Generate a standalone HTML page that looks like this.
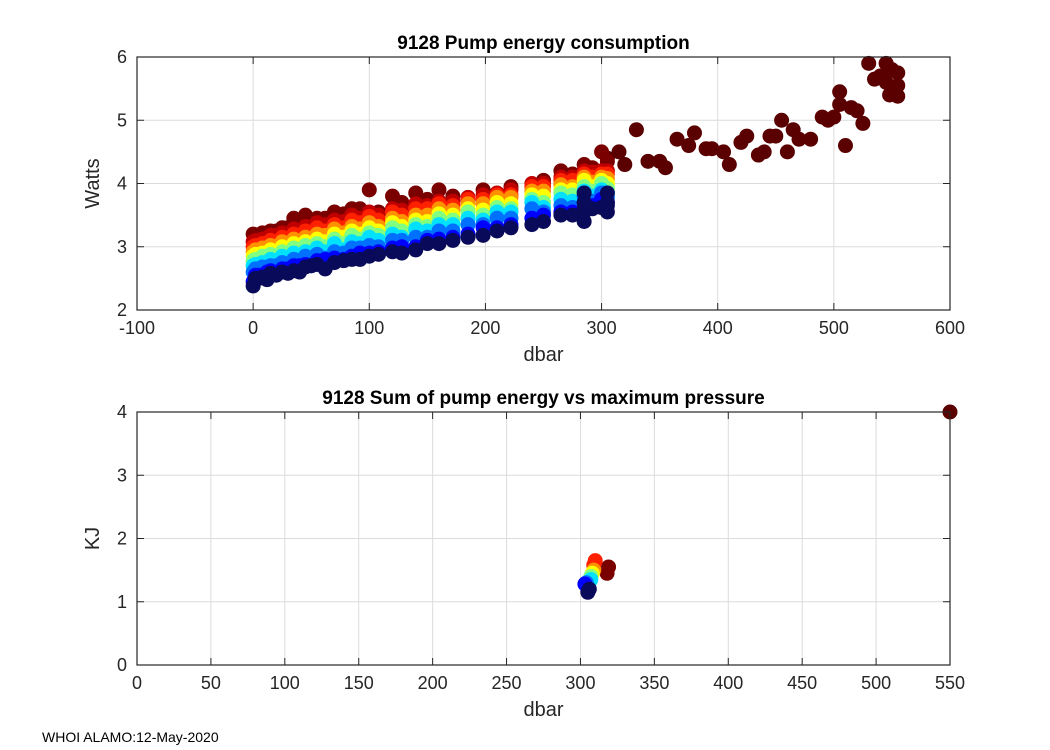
<!DOCTYPE html>
<html><head><meta charset="utf-8"><style>
html,body{margin:0;padding:0;background:#fff;}
svg{display:block;font-family:"Liberation Sans",Arial,sans-serif;}
</style></head><body>
<svg id="chart" width="1050" height="750" viewBox="0 0 1050 750" xmlns="http://www.w3.org/2000/svg">
<rect width="1050" height="750" fill="#fff"/>
<g id="top"></g>
<g id="bot"></g>
<text x="42" y="742" font-size="14" fill="#000">WHOI ALAMO:12-May-2020</text>
</svg>
<script>
// ---- data ----
const bandColors = ['#0a0a5a','#0000ff','#0070ff','#00e0ff','#80ff80','#ffff00','#ff9000','#ff2000','#c00000','#7a0000'];
const pressures = [0,2,8,15,25,35,45,55,70,85,100,120,140,160,185,210,240,265,285,300];
const watts0 = [2.38,2.5,2.52,2.58,2.6,2.62,2.68,2.72,2.75,2.8,2.85,2.92,2.95,3.05,3.15,3.25,3.35,3.5,3.6,3.62];
const watts1 = [2.45,2.55,2.55,2.62,2.65,2.7,2.72,2.78,2.82,2.85,2.9,2.98,3.0,3.12,3.2,3.3,3.45,3.55,3.7,3.75];
const watts2 = [2.6,2.65,2.68,2.7,2.75,2.8,2.85,2.88,2.92,2.98,3.02,3.1,3.15,3.25,3.35,3.45,3.6,3.65,3.8,3.85];
const watts3 = [2.7,2.72,2.75,2.8,2.85,2.9,2.92,2.98,3.05,3.08,3.15,3.2,3.28,3.35,3.45,3.55,3.7,3.75,3.88,3.9];
const watts4 = [2.78,2.8,2.85,2.88,2.92,2.98,3.02,3.05,3.12,3.18,3.22,3.3,3.35,3.45,3.55,3.62,3.75,3.85,3.95,4.0];
const watts5 = [2.85,2.88,2.9,2.95,3.0,3.05,3.08,3.12,3.2,3.25,3.3,3.38,3.42,3.52,3.6,3.7,3.82,3.9,4.05,4.05];
const watts6 = [2.92,2.95,2.98,3.02,3.08,3.12,3.15,3.2,3.28,3.32,3.38,3.45,3.5,3.6,3.68,3.78,3.88,3.98,4.1,4.1];
const watts7 = [3.0,3.02,3.05,3.1,3.15,3.2,3.25,3.3,3.35,3.42,3.48,3.55,3.6,3.68,3.75,3.82,3.95,4.05,4.15,4.15];
const watts8 = [3.08,3.1,3.12,3.18,3.22,3.28,3.32,3.38,3.42,3.5,3.55,3.6,3.68,3.72,3.78,3.85,4.0,4.1,4.2,4.2];
const watts9 = [3.2,3.18,3.22,3.25,3.3,3.45,3.5,3.45,3.55,3.6,3.9,3.8,3.85,3.9,3.75,3.8,3.75,4.2,4.3,4.5];
const pressuresB = [5,12,20,30,40,50,62,78,92,108,128,150,172,198,222,250,275,292,305];
const wattsB0 = [2.5,2.48,2.55,2.58,2.6,2.7,2.65,2.78,2.8,2.88,2.9,3.05,3.1,3.18,3.3,3.4,3.5,3.6,3.65];
const wattsB1 = [2.55,2.6,2.58,2.65,2.7,2.7,2.8,2.8,2.9,2.92,3.0,3.1,3.15,3.3,3.35,3.5,3.55,3.65,3.7];
const wattsB2 = [2.62,2.65,2.7,2.7,2.78,2.8,2.82,2.9,2.98,3.0,3.1,3.15,3.25,3.35,3.45,3.55,3.62,3.72,3.78];
const wattsB3 = [2.7,2.72,2.78,2.8,2.82,2.9,2.92,2.95,3.05,3.1,3.15,3.25,3.35,3.42,3.55,3.62,3.72,3.8,3.85];
const wattsB4 = [2.78,2.82,2.85,2.88,2.92,2.95,3.0,3.05,3.12,3.18,3.25,3.32,3.42,3.5,3.6,3.7,3.82,3.88,3.92];
const wattsB5 = [2.86,2.9,2.92,2.95,3.0,3.02,3.08,3.15,3.2,3.25,3.32,3.4,3.5,3.58,3.68,3.8,3.9,3.95,4.0];
const wattsB6 = [2.95,2.98,3.0,3.05,3.08,3.12,3.18,3.22,3.28,3.32,3.4,3.5,3.58,3.68,3.78,3.88,3.95,4.02,4.08];
const wattsB7 = [3.02,3.05,3.08,3.12,3.15,3.2,3.25,3.3,3.38,3.42,3.5,3.6,3.65,3.75,3.82,3.95,4.05,4.1,4.15];
const wattsB8 = [3.1,3.12,3.18,3.2,3.25,3.28,3.35,3.4,3.45,3.5,3.58,3.65,3.72,3.82,3.9,4.0,4.1,4.18,4.2];
const wattsB9 = [3.18,3.2,3.25,3.3,3.35,3.4,3.45,3.52,3.6,3.55,3.7,3.75,3.8,3.9,3.95,4.05,4.15,4.25,4.35];
const streakP = [285,285,285,285,305,305,305];
const streakW = [3.4,3.55,3.7,3.85,3.55,3.7,3.85];
const deepP = [305,315,320,330,340,350,355,365,375,380,390,395,405,410,420,425,435,440,445,450,455,460,465,470,480,490,495,500,505,505,510,515,520,525,530,535,540,545,545,550,548,555,555,555];
const deepW = [4.4,4.5,4.3,4.85,4.35,4.35,4.25,4.7,4.6,4.8,4.55,4.55,4.5,4.3,4.65,4.75,4.45,4.5,4.75,4.75,5.0,4.5,4.85,4.7,4.7,5.05,5.0,5.05,5.45,5.25,4.6,5.2,5.15,4.95,5.9,5.65,5.7,5.9,5.6,5.8,5.4,5.75,5.55,5.38];
const sumP = [305,306,303,304,307,307,308,309,309,310,318,319,550];
const sumKJ = [1.15,1.2,1.28,1.3,1.35,1.4,1.45,1.5,1.58,1.65,1.45,1.55,4.0];
const sumBand = [0,0,1,2,3,4,5,6,7,7,9,9,10];
const topXTicks = [-100,0,100,200,300,400,500,600];
const topYTicks = [2,3,4,5,6];
const botXTicks = [0,50,100,150,200,250,300,350,400,450,500,550];
const botYTicks = [0,1,2,3,4];
const deepColor = '#5a0000';
const wattsBands = [watts0,watts1,watts2,watts3,watts4,watts5,watts6,watts7,watts8,watts9];
const wattsBandsB = [wattsB0,wattsB1,wattsB2,wattsB3,wattsB4,wattsB5,wattsB6,wattsB7,wattsB8,wattsB9];

const NS='http://www.w3.org/2000/svg';
function mk(tag,attrs,parent){const e=document.createElementNS(NS,tag);for(const k in attrs)e.setAttribute(k,attrs[k]);parent.appendChild(e);return e;}

function axes(g,L,T,R,B,xmin,xmax,ymin,ymax,xt,yt,title,xl,yl){
  const sx=v=>L+(v-xmin)/(xmax-xmin)*(R-L);
  const sy=v=>B-(v-ymin)/(ymax-ymin)*(B-T);
  xt.forEach(v=>{const x=sx(v);
    const l=mk('line',{x1:x,x2:x,y1:T,y2:B,stroke:'#dcdcdc','stroke-width':1},g);
    
    
    const t=mk('text',{x:x,y:B+24,'font-size':18,'text-anchor':'middle',fill:'#262626'},g);t.textContent=v;
    
    
  });
  yt.forEach(v=>{const y=sy(v);
    const l=mk('line',{x1:L,x2:R,y1:y,y2:y,stroke:'#dcdcdc','stroke-width':1},g);
    
    
    const t=mk('text',{x:L-10,y:y+6,'font-size':18,'text-anchor':'end',fill:'#262626'},g);t.textContent=v;
    
    
  });
  const tt=mk('text',{x:(L+R)/2,y:T-8,'font-size':19,'font-weight':'bold','text-anchor':'middle',fill:'#000'},g);tt.textContent=title;
  
  
  const xa=mk('text',{x:(L+R)/2,y:B+51,'font-size':20,'text-anchor':'middle',fill:'#262626'},g);xa.textContent=xl;
  
  
  const ya=mk('text',{x:0,y:0,'font-size':20,'text-anchor':'middle',fill:'#262626',transform:`translate(${L-38},${(T+B)/2}) rotate(-90)`},g);ya.textContent=yl;
  
  
  return {sx,sy,frame:()=>{
    const f=mk('rect',{x:L,y:T,width:R-L,height:B-T,fill:'none',stroke:'#262626','stroke-width':1.2},g);
    
    
    xt.forEach(v=>{mk('line',{x1:sx(v),x2:sx(v),y1:B,y2:B-7,stroke:'#262626'},g);mk('line',{x1:sx(v),x2:sx(v),y1:T,y2:T+7,stroke:'#262626'},g);});
    yt.forEach(v=>{mk('line',{x1:L,x2:L+7,y1:sy(v),y2:sy(v),stroke:'#262626'},g);mk('line',{x1:R,x2:R-7,y1:sy(v),y2:sy(v),stroke:'#262626'},g);});
  }};
}
function dot(g,x,y,c,name){
  const d=mk('circle',{cx:x,cy:y,r:7.5,fill:c},g);
  
  
}

// top
const gt=document.getElementById('top');
const A=axes(gt,137,57,950,310,-100,600,2,6,topXTicks,topYTicks,'9128 Pump energy consumption','dbar','Watts');
deepP.forEach((p,i)=>dot(gt,A.sx(p),A.sy(deepW[i]),deepColor,'deep-profile-point'));
for(let b=wattsBands.length-1;b>=0;b--){
  wattsBands[b].forEach((w,i)=>dot(gt,A.sx(pressures[i]),A.sy(w),bandColors[b],'energy-point'));
  wattsBandsB[b].forEach((w,i)=>dot(gt,A.sx(pressuresB[i]),A.sy(w),bandColors[b],'energy-point'));
}
streakP.forEach((p,i)=>dot(gt,A.sx(p),A.sy(streakW[i]),bandColors[0],'energy-point'));
A.frame();

// bottom
const gb=document.getElementById('bot');
const B2=axes(gb,137,412,950,665,0,550,0,4,botXTicks,botYTicks,'9128 Sum of pump energy vs maximum pressure','dbar','KJ');
for(let i=sumP.length-1;i>=0;i--){
  const c=sumBand[i]>=bandColors.length?deepColor:bandColors[sumBand[i]];
  dot(gb,B2.sx(sumP[i]),B2.sy(sumKJ[i]),c,'sum-energy-point');
}
B2.frame();
</script>
</body></html>
